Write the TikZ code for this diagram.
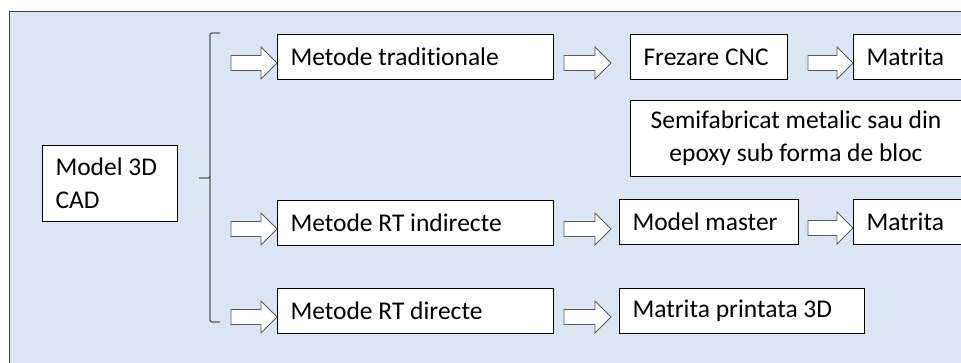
\documentclass[tikz,border=0pt]{standalone}
\usepackage{fontspec}
\setmainfont[Ligatures=NoCommon]{Carlito}
\usetikzlibrary{calc}
\definecolor{fundal}{HTML}{DCE6F2}
\definecolor{contur}{HTML}{5A5A5A}

% sageata plina orizontala, de la #1 la varful #2
\newcommand{\sageata}[2]{%
  \draw[sageata] ($(#1)+(0,-7.5)$) -- ($(#2)+(-16,-7.5)$) -- ($(#2)+(-16,-16)$) -- (#2)
    -- ($(#2)+(-16,16)$) -- ($(#2)+(-16,7.5)$) -- ($(#1)+(0,7.5)$) -- cycle;}

\begin{document}
\begin{tikzpicture}[x=1pt, y=-1pt,
    cutie/.style={draw, fill=white, line width=1pt, anchor=north west, inner xsep=13pt,
      inner ysep=0pt, minimum height=45pt, align=flush left,
      font=\fontsize{25.5}{33}\selectfont},
    sageata/.style={draw=contur, fill=white, line width=0.9pt, line join=miter},
    acolada/.style={draw=contur, line width=1.3pt, rounded corners=2pt}]
    \useasboundingbox (0,0) rectangle (961,363);
    \clip (0,0) rectangle (961,363);
    \draw[fill=fundal, draw=black!75, line width=1pt] (9,12) rectangle (980,380);

    \node[cutie, text width=109pt, minimum height=76pt] (cad) at (42,145) {Model 3D\\CAD};

    \node[cutie, text width=250pt] (trad) at (277,34) {Metode traditionale};
    \node[cutie, text width=250pt] (indir) at (277,200) {Metode RT indirecte};
    \node[cutie, text width=250pt] (direct) at (277,288) {Metode RT directe};

    \node[cutie, text width=131pt] (frez) at (630,34) {Frezare CNC};
    \node[cutie, text width=104pt] (mat1) at (853,34) {Matrita};
    \node[cutie, text width=305pt, minimum height=76pt, align=flush center] (semi) at (630,100)
      {Semifabricat metalic sau din\\epoxy sub forma de bloc};

    \node[cutie, text width=153pt] (master) at (619,199) {Model master};
    \node[cutie, text width=104pt] (mat2) at (853,199) {Matrita};
    \node[cutie, text width=219pt] (print) at (619,288) {Matrita printata 3D};

    % acolada
    \draw[acolada] (220,33) -- (210,33) -- (210,178) -- (199,178);
    \draw[acolada] (210,176) -- (210,322) -- (220,322);

    % sagetile
    \sageata{$(trad.west)+(-46,6)$}{$(trad.west)+(0,6)$}
    \sageata{$(indir.west)+(-46,6)$}{$(indir.west)+(0,6)$}
    \sageata{$(direct.west)+(-46,6)$}{$(direct.west)+(0,6)$}

    \sageata{$(trad.east)+(10,6)$}{$(trad.east)+(57,6)$}
    \sageata{$(indir.east)+(10,6)$}{$(indir.east)+(57,6)$}
    \sageata{$(direct.east)+(10,6)$}{$(direct.east)+(57,6)$}

    \sageata{$(mat1.west)+(-45,6)$}{$(mat1.west)+(0,6)$}
    \sageata{$(mat2.west)+(-45,6)$}{$(mat2.west)+(0,6)$}
\end{tikzpicture}
\end{document}
